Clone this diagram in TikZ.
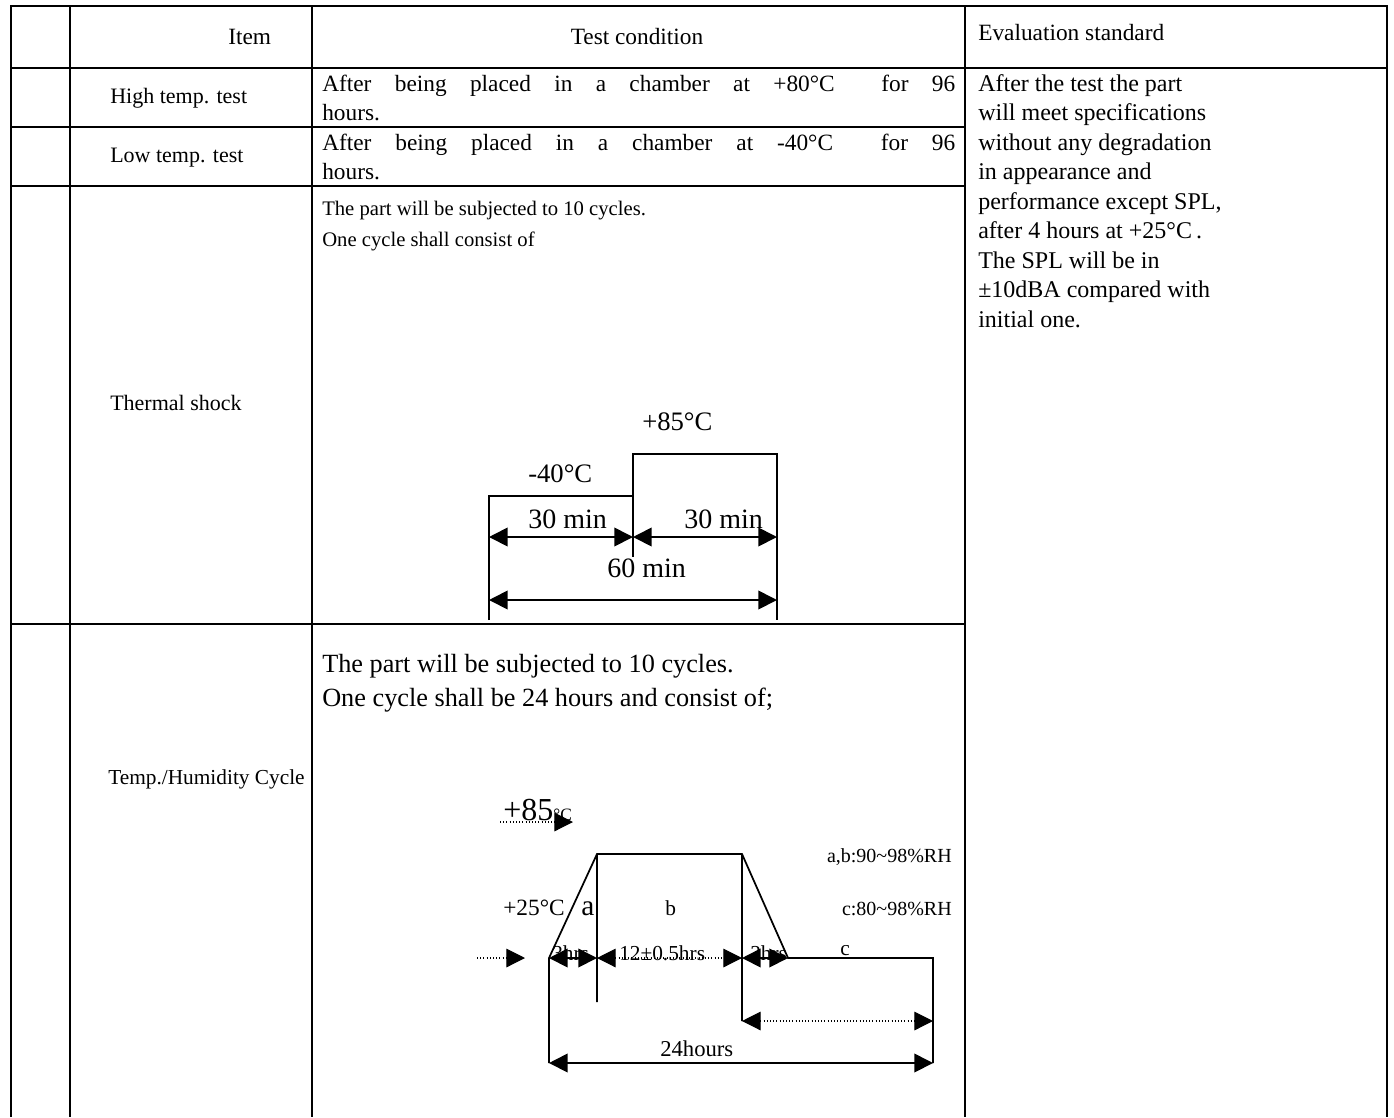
\documentclass[tikz,border=0pt]{standalone}
\usepackage{fontspec}
\setmainfont{Liberation Serif}
\usetikzlibrary{arrows.meta}
\newcommand{\dC}{\textdegree C}
\tikzset{
  rule/.style={line width=1.9pt},
  curve/.style={line width=1.3pt},
  txt/.style={anchor=base west, inner sep=0pt, font=\fontsize{#1}{#1}\selectfont},
  txt/.default=17.5,
  tip/.tip={Triangle[length=14pt,width=14pt]},
  dimline/.style={curve, tip-tip},
  dots/.style={line width=0.8pt, dash pattern=on 0.8pt off 1.6pt},
}
\begin{document}
\begin{tikzpicture}[x=0.75pt,y=-0.75pt]
\useasboundingbox (0,0) rectangle (1394,1117);
% grid of the table
\draw[rule] (11,1117) -- (11,6) -- (1387,6) -- (1387,1117)
      (70,6) -- (70,1117) (312,6) -- (312,1117) (965,6) -- (965,1117)
      (11,68) -- (1387,68);
\foreach \y in {127,186,624}
  \draw[rule] (11,\y) -- (965,\y);
% header
\node (item) [txt] at (228,44) {Item};
\node (cond) [txt, anchor=base] at (637,44) {Test condition};
\node (eval) [txt] at (978,40) {Evaluation standard};
% high / low temperature
\node (high) [txt=16.5] at (110,103) {High temp. test};
\node (highA) [txt] at (322,91) {\makebox[474.75pt][s]{After being placed in a chamber at +80\dC\ \ for 96}};
\node (highB) [txt] at (322,120) {hours.};
\node (low) [txt=16.5] at (110,162) {Low temp. test};
\node (lowA) [txt] at (322,150) {\makebox[474.75pt][s]{After being placed in a chamber at -40\dC\ \ for 96}};
\node (lowB) [txt] at (322,179) {hours.};
% evaluation standard
\foreach \t [count=\i from 0] in {After the test the part, will meet specifications,
    without any degradation, in appearance and, {performance except SPL,},
    after 4 hours at +25\dC\,., The SPL will be in, ±10dBA compared with, initial one.}
  \node (std\i) [txt=18] at (978,91+29.5*\i) {\t};
% thermal shock
\node (shock) [txt=16.5] at (110,410) {Thermal shock};
\node (shockA) [txt=15.5] at (322,215) {The part will be subjected to 10 cycles.};
\node (shockB) [txt=15.5] at (322,246) {One cycle shall consist of};
\draw[curve] (489,620) -- (489,496) -- (633,496) -- (633,454) -- (777,454) -- (777,620)
      (633,496) -- (633,557);
\coordinate (s1) at (489,537); \coordinate (s2) at (633,537); \coordinate (s3) at (777,537);
\coordinate (s4) at (489,600); \coordinate (s5) at (777,600);
\draw[dimline] (s1) -- (s2);
\draw[dimline] (s2) -- (s3);
\draw[dimline] (s4) -- (s5);
\node (hot) [txt=20] at (642,430) {+85\dC};
\node (cold) [txt=20] at (528,482) {-40\dC};
\node (half1) [txt=21] at (528,528) {30 min};
\node (half2) [txt=21] at (684,528) {30 min};
\node (full) [txt=21] at (607,577) {60 min};
% temp./humidity cycle
\node (humid) [txt=16] at (108,784) {Temp./Humidity Cycle};
\node (humidA) [txt=19.7] at (322,672) {The part will be subjected to 10 cycles.};
\node (humidB) [txt=19.7] at (322,706) {One cycle shall be 24 hours and consist of;};
\draw[curve] (549,1063) -- (549,958) -- (597,854) -- (742,854) -- (788,958) -- (933,958) -- (933,1063)
      (597,854) -- (597,1002) (742,854) -- (742,1021);
\coordinate (h0) at (477,958); \coordinate (h0a) at (525,958);
\coordinate (h1) at (549,958); \coordinate (h2) at (597,958);
\coordinate (h3) at (742,958); \coordinate (h4) at (788,958);
\coordinate (h5) at (742,1021); \coordinate (h6) at (933,1021);
\coordinate (h7) at (549,1063); \coordinate (h8) at (933,1063);
\coordinate (t0) at (500,822); \coordinate (t1) at (573,822);
\draw[dots, -tip] (h0) -- (h0a);
\draw[dots, -tip] (t0) -- (t1);
\draw[dimline] (h1) -- (h2);
\draw[dimline, dots] (h2) -- (h3);
\draw[dimline] (h3) -- (h4);
\draw[dimline, dots] (h5) -- (h6);
\draw[dimline] (h7) -- (h8);
\node (top) [txt=24] at (503,820) {+85{\fontsize{13}{13}\selectfont\dC}};
\node (base) [txt] at (503,915) {+25\dC};
\node (rampA) [txt=22] at (581,915) {a};
\node (dwell) [txt=16] at (665,915) {b};
\node (rhAB) [txt=15, anchor=base east] at (952,862) {a,b:90\textasciitilde98\%RH};
\node (rhC) [txt=15, anchor=base east] at (952,915) {c:80\textasciitilde98\%RH};
\node (up) [txt=16] at (552,960) {3hrs};
\node (hold) [txt=16] at (619,960) {12±0.5hrs};
\node (down) [txt=16] at (750,960) {3hrs};
\node (rest) [txt=16] at (840,955) {c};
\node (day) [txt=17] at (660,1056) {24hours};
\end{tikzpicture}
\end{document}
